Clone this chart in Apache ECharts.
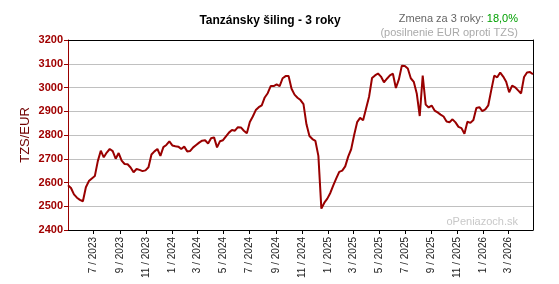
<!DOCTYPE html>
<html>
<head>
<meta charset="utf-8">
<script src="https://cdn.jsdelivr.net/npm/echarts@6/dist/echarts.min.js"></script>
<style>
html,body{margin:0;padding:0;background:#fff;}
#chart{width:559px;height:284px;}
</style>
</head>
<body>
<div id="chart"></div>
<script>
// ---- data ----
const chartTitle = 'Tanzánsky šiling - 3 roky';
const changeLabel = 'Zmena za 3 roky: ';
const changeValue = '18,0%';
const changeNote = '(posilnenie EUR oproti TZS)';
const watermark = 'oPeniazoch.sk';
const yAxisName = 'TZS/EUR';

// weekly observations starting on this date (year, month 1-12, day)
const startDate = [2023, 5, 2];
const stepDays = 7;
const rates = [
  2588, 2577, 2550, 2536, 2527, 2521, 2580, 2606, 2617, 2627,
  2690, 2734, 2706, 2726, 2741, 2732, 2700, 2724, 2692, 2678,
  2677, 2663, 2643, 2657, 2653, 2648, 2651, 2664, 2718, 2731,
  2741, 2712, 2749, 2758, 2773, 2756, 2753, 2751, 2741, 2751,
  2731, 2733, 2748, 2758, 2768, 2776, 2778, 2764, 2786, 2790,
  2748, 2774, 2778, 2794, 2810, 2821, 2818, 2833, 2832, 2818,
  2807, 2855, 2878, 2905, 2917, 2925, 2958, 2976, 3006, 3006,
  3013, 3006, 3039, 3048, 3048, 2995, 2970, 2957, 2947, 2930,
  2845, 2796, 2783, 2775, 2712, 2490, 2515, 2532, 2556, 2588,
  2617, 2645, 2650, 2668, 2709, 2740, 2800, 2854, 2872, 2862,
  2912, 2961, 3040, 3051, 3059, 3046, 3022, 3037, 3051, 3058,
  2998, 3034, 3092, 3091, 3080, 3039, 3024, 2975, 2880, 3050,
  2928, 2916, 2924, 2903, 2895, 2886, 2878, 2857, 2854, 2866,
  2853, 2834, 2829, 2805, 2856, 2851, 2863, 2914, 2917, 2901,
  2908, 2925, 2989, 3050, 3043, 3063, 3046, 3024, 2980, 3008,
  3001, 2988, 2975, 3044, 3063, 3065, 3056
];

// x tick months [year, month]
const tickMonths = [
  [2023,7],[2023,9],[2023,11],[2024,1],[2024,3],[2024,5],[2024,7],[2024,9],[2024,11],
  [2025,1],[2025,3],[2025,5],[2025,7],[2025,9],[2025,11],[2026,1],[2026,3]
];
const yMin = 2400, yMax = 3200, yStep = 100;

// ---- build ----
const DAY = 86400000;
const t0 = Date.UTC(startDate[0], startDate[1]-1, startDate[2]);
const seriesData = rates.map((v, i) => [t0 + i*stepDays*DAY, v]);
const tEnd = t0 + (rates.length-1)*stepDays*DAY;
const tickValues = tickMonths.map(m => Date.UTC(m[0], m[1]-1, 1));
const tickText = {};
tickMonths.forEach((m, i) => { tickText[tickValues[i]] = m[1] + ' / ' + m[0]; });

const chart = echarts.init(document.getElementById('chart'), null, {renderer: 'canvas'});
const font = 'Arial, "Liberation Sans", sans-serif';
chart.setOption({
  animation: false,
  backgroundColor: '#fff',
  textStyle: {fontFamily: font},
  title: {
    text: chartTitle,
    left: 265, top: 10, textAlign: 'center',
    textStyle: {fontSize: 12, fontWeight: 'bold', color: '#000', fontFamily: font}
  },
  graphic: [
    {type: 'text', right: 41, top: 13, style: {
      text: '{a|' + changeLabel + '}{b|' + changeValue + '}',
      font: '11px ' + font,
      rich: {a: {fontSize: 11, fill: '#666', fontFamily: font}, b: {fontSize: 11, fill: '#00a000', fontFamily: font}}
    }},
    {type: 'text', right: 41, top: 27, style: {text: changeNote, fontSize: 11, fill: '#aaa', fontFamily: font}},
    {type: 'text', right: 41, top: 216, z: 0, style: {text: watermark, fontSize: 11, fill: '#c8c8c8', fontFamily: font}}
  ],
  grid: {left: 68, right: 26, top: 40, bottom: 54, containLabel: false},
  xAxis: [{
    type: 'value',
    min: t0, max: tEnd,
    axisLine: {show: true, lineStyle: {color: '#000', width: 1}},
    axisTick: {show: true, customValues: tickValues, length: 4, inside: false, lineStyle: {color: '#000'}},
    axisLabel: {show: true, customValues: tickValues, rotate: 90, margin: 7, fontSize: 10, color: '#222', fontFamily: font,
      formatter: v => tickText[v] || ''},
    splitLine: {show: false}
  }, {
    type: 'value', position: 'top', min: t0, max: tEnd,
    axisLine: {show: true, onZero: false, lineStyle: {color: '#000', width: 1}},
    axisTick: {show: false}, axisLabel: {show: false}, splitLine: {show: false}
  }],
  yAxis: [{
    type: 'value',
    min: yMin, max: yMax, interval: yStep,
    name: yAxisName, nameLocation: 'middle', nameGap: 36, nameRotate: 90, nameMoveOverlap: false,
    nameTextStyle: {fontSize: 13, color: '#700000', fontFamily: font},
    axisLine: {show: true, lineStyle: {color: '#990000', width: 1}},
    axisTick: {show: true, length: 4, lineStyle: {color: '#990000'}},
    axisLabel: {fontSize: 11, fontWeight: 'bold', color: '#a00000', margin: 5, fontFamily: font,
      formatter: v => String(v)},
    splitLine: {show: true, lineStyle: {color: '#c0c0c0', width: 1}}
  }, {
    type: 'value', position: 'right', min: yMin, max: yMax,
    axisLine: {show: true, onZero: false, lineStyle: {color: '#000', width: 1}},
    axisTick: {show: false}, axisLabel: {show: false}, splitLine: {show: false}
  }],
  series: [{
    type: 'line',
    data: seriesData,
    xAxisIndex: 0, yAxisIndex: 0,
    showSymbol: false,
    smooth: false,
    lineStyle: {color: '#990000', width: 2},
    z: 5
  }]
});
</script>
</body>
</html>
